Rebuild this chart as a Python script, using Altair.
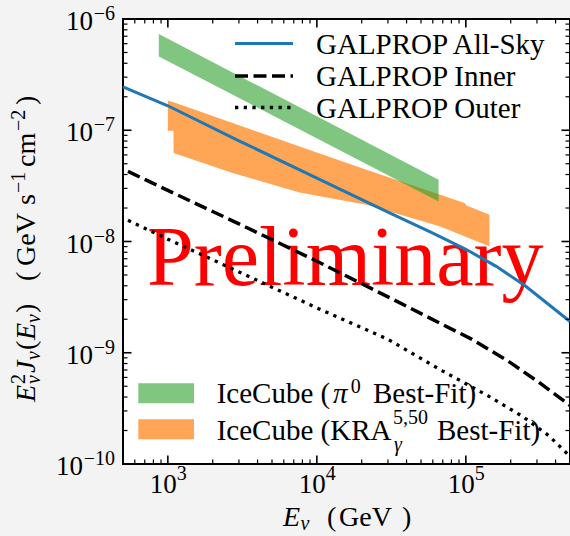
import altair as alt
import pandas as pd

# ---------------- data ----------------
allsky_E = [500, 1000, 3000, 10000, 30000, 60000, 100000, 160000, 250000, 500000]
allsky_flux = [2.45e-7, 1.66e-7, 8.04e-8, 3.72e-8, 1.84e-8, 1.19e-8, 8.51e-9, 5.98e-9, 4.0e-9, 1.91e-9]

inner_E = [540, 1000, 3000, 10000, 30000, 70000, 110000, 190000, 310000, 500000]
inner_flux = [4.27e-8, 2.88e-8, 1.44e-8, 6.65e-9, 3.18e-9, 1.79e-9, 1.32e-9, 8.51e-10, 5.41e-10, 3.36e-10]

outer_E = [540, 1000, 3000, 10000, 30000, 70000, 140000, 240000, 360000, 500000]
outer_flux = [1.55e-8, 1.05e-8, 5.33e-9, 2.53e-9, 1.32e-9, 6.84e-10, 4.12e-10, 2.68e-10, 1.80e-10, 1.17e-10]

pi0_E = [870, 65600]
pi0_upper = [7.33e-7, 3.59e-8]
pi0_lower = [4.61e-7, 2.29e-8]

kra_E = [1000, 1090, 1093, 2720, 7660, 21500, 66700, 98800, 100300, 144000]
kra_upper = [1.854e-7, 1.782e-7, 1.782e-7, 1.161e-7, 7.16e-8, 4.42e-8, 2.64e-8, 2.21e-8, 2.12e-8, 1.74e-8]
kra_lower = [9.91e-8, 9.91e-8, 6.25e-8, 4.13e-8, 2.75e-8, 2.14e-8, 1.37e-8, 1.11e-8, 1.10e-8, 9.08e-9]

x_major = [1e3, 1e4, 1e5]
x_minor = [600, 700, 800, 900,
           2000, 3000, 4000, 5000, 6000, 7000, 8000, 9000,
           20000, 30000, 40000, 50000, 60000, 70000, 80000, 90000,
           200000, 300000, 400000]
x_label_exp = ["3", "4", "5"]

y_major = [1e-10, 1e-9, 1e-8, 1e-7, 1e-6]
y_minor = [2e-10, 3e-10, 4e-10, 5e-10, 6e-10, 7e-10, 8e-10, 9e-10,
           2e-9, 3e-9, 4e-9, 5e-9, 6e-9, 7e-9, 8e-9, 9e-9,
           2e-8, 3e-8, 4e-8, 5e-8, 6e-8, 7e-8, 8e-8, 9e-8,
           2e-7, 3e-7, 4e-7, 5e-7, 6e-7, 7e-7, 8e-7, 9e-7]
y_label_exp = ["\u221210", "\u22129", "\u22128", "\u22127", "\u22126"]

# ---------------- layout ----------------
W, H = 447, 445
SERIF = "Liberation Serif"
BLUE = "#1f77b4"

xs = alt.Scale(type="log", domain=[500, 500000], nice=False)
ys = alt.Scale(type="log", domain=[1e-10, 1e-6], nice=False)

one = pd.DataFrame({"a": [0]})


def X(f):
    return alt.X(f, type="quantitative", scale=xs, axis=None)


def Y(f):
    return alt.Y(f, type="quantitative", scale=ys, axis=None)


def txt(s, x, y, size=29, style="normal", angle=0, align="left", color="black"):
    return alt.Chart(one).mark_text(
        text=s, font=SERIF, fontSize=size, fontStyle=style, angle=angle,
        align=align, baseline="alphabetic", color=color
    ).encode(x=alt.value(x), y=alt.value(y))


df_allsky = pd.DataFrame({"E": allsky_E, "F": allsky_flux})
df_inner = pd.DataFrame({"E": inner_E, "F": inner_flux})
df_outer = pd.DataFrame({"E": outer_E, "F": outer_flux})
df_pi0 = pd.DataFrame({"E": pi0_E, "up": pi0_upper, "lo": pi0_lower})
df_kra = pd.DataFrame({"E": kra_E, "up": kra_upper, "lo": kra_lower})

kra = alt.Chart(df_kra).mark_area(color="#ff7f0e", opacity=0.7).encode(
    x=X("E"), y=Y("up"), y2="lo")
pi0 = alt.Chart(df_pi0).mark_area(color="#2ca02c", opacity=0.6).encode(
    x=X("E"), y=Y("up"), y2="lo")

prelim = txt("Preliminary", 24, 266, size=84, color="red")

l_all = alt.Chart(df_allsky).mark_line(color=BLUE, strokeWidth=3).encode(x=X("E"), y=Y("F"))
l_in = alt.Chart(df_inner).mark_line(color="black", strokeWidth=3.5, strokeDash=[13, 5.5]).encode(
    x=X("E"), y=Y("F"))
l_out = alt.Chart(df_outer).mark_line(color="black", strokeWidth=3.3, strokeDash=[3.3, 5.4],
                                      strokeCap="butt").encode(x=X("E"), y=Y("F"))

# ---------------- ticks (inward, all four sides) ----------------
dxmaj = pd.DataFrame({"v": x_major})
dxmin = pd.DataFrame({"v": x_minor})
dymaj = pd.DataFrame({"v": y_major})
dymin = pd.DataFrame({"v": y_minor})
MAJ, MIN = 8.5, 4.5
ticks = []
for d, L, sw in [(dxmaj, MAJ, 1.6), (dxmin, MIN, 1.2)]:
    ticks.append(alt.Chart(d).mark_rule(color="black", strokeWidth=sw).encode(
        x=X("v"), y=alt.value(H), y2=alt.value(H - L)))
    ticks.append(alt.Chart(d).mark_rule(color="black", strokeWidth=sw).encode(
        x=X("v"), y=alt.value(0), y2=alt.value(L)))
for d, L, sw in [(dymaj, MAJ, 1.6), (dymin, MIN, 1.2)]:
    ticks.append(alt.Chart(d).mark_rule(color="black", strokeWidth=sw).encode(
        y=Y("v"), x=alt.value(0), x2=alt.value(L)))
    ticks.append(alt.Chart(d).mark_rule(color="black", strokeWidth=sw).encode(
        y=Y("v"), x=alt.value(W), x2=alt.value(W - L)))

# ---------------- tick labels ----------------
dxl = pd.DataFrame({"v": x_major, "e": x_label_exp})
xl10 = alt.Chart(dxl).mark_text(text="10", font=SERIF, fontSize=27, align="center",
                                baseline="alphabetic", dx=-4.6).encode(x=X("v"), y=alt.value(474))
xlexp = alt.Chart(dxl).mark_text(font=SERIF, fontSize=20, align="center",
                                 baseline="alphabetic", dx=14).encode(
    x=X("v"), y=alt.value(461), text="e:N")

dyl = pd.DataFrame({"v": y_major, "e": y_label_exp})
dyl1 = dyl[dyl["e"].str.len() == 2]
dyl2 = dyl[dyl["e"].str.len() == 3]
ylexp = alt.Chart(dyl).mark_text(font=SERIF, fontSize=20, align="right",
                                 baseline="alphabetic", dy=1).encode(
    y=Y("v"), x=alt.value(-8), text="e:N")
yl10a = alt.Chart(dyl1).mark_text(text="10", font=SERIF, fontSize=27, align="right",
                                  baseline="alphabetic", dy=11).encode(y=Y("v"), x=alt.value(-30))
yl10b = alt.Chart(dyl2).mark_text(text="10", font=SERIF, fontSize=27, align="right",
                                  baseline="alphabetic", dy=11).encode(y=Y("v"), x=alt.value(-40))

# ---------------- axis titles ----------------
xt = [
    txt("E", 160, 507, 28, "italic"),
    txt("\u03bd", 177.5, 511, 20, "italic"),
    txt("(", 204, 507, 28),
    txt("GeV", 216, 507, 28),
    txt(")", 279, 507, 28),
]
MX, SUBX, SUPX = -88, -83, -98
ypieces = [
    ("E", 383, MX, 28, "italic"),
    ("2", 365, SUPX, 20, "normal"),
    ("\u03bd", 365, SUBX, 20, "italic"),
    ("J", 354, MX, 28, "italic"),
    ("\u03bd", 341, SUBX, 20, "italic"),
    ("(", 331, MX, 28, "normal"),
    ("E", 321, MX, 28, "italic"),
    ("\u03bd", 304, SUBX, 20, "italic"),
    (")", 294, MX, 28, "normal"),
    ("(", 262, MX, 28, "normal"),
    ("GeV", 247, MX, 28, "normal"),
    ("s", 186, MX, 28, "normal"),
    ("\u22121", 174, SUPX, 20, "normal"),
    ("cm", 148, MX, 28, "normal"),
    ("\u22122", 112, SUPX, 20, "normal"),
    (")", 86, MX, 28, "normal"),
]
yt = [txt(s, x, y, sz, st, angle=270) for s, y, x, sz, st in ypieces]

# ---------------- legends ----------------
leg = [
    alt.Chart(one).mark_rule(color=BLUE, strokeWidth=3).encode(
        x=alt.value(112), x2=alt.value(170), y=alt.value(24.5)),
    alt.Chart(one).mark_rule(color="black", strokeWidth=3.5, strokeDash=[13, 5.5]).encode(
        x=alt.value(112), x2=alt.value(170), y=alt.value(57)),
    alt.Chart(one).mark_rule(color="black", strokeWidth=3.3, strokeDash=[3.3, 5.4],
                             strokeCap="butt").encode(
        x=alt.value(112), x2=alt.value(170), y=alt.value(88.5)),
    txt("GALPROP All-Sky", 193, 34.5),
    txt("GALPROP Inner", 193, 66.5),
    txt("GALPROP Outer", 193, 98.5),
    alt.Chart(one).mark_rect(color="#2ca02c", opacity=0.6).encode(
        x=alt.value(15.3), x2=alt.value(71), y=alt.value(364.3), y2=alt.value(384.3)),
    alt.Chart(one).mark_rect(color="#ff7f0e", opacity=0.7).encode(
        x=alt.value(15.3), x2=alt.value(71), y=alt.value(400.3), y2=alt.value(420.3)),
    txt("IceCube (", 93.7, 384.3),
    txt("\u03c0", 210, 384.3, 29, "italic"),
    txt("0", 227.7, 373.5, 20),
    txt("Best-Fit)", 250, 384.3),
    txt("IceCube (KRA", 93.7, 421),
    txt("5,50", 270, 405, 20),
    txt("\u03b3", 271, 432, 20, "italic"),
    txt("Best-Fit)", 314, 421),
]

chart = alt.layer(
    kra, pi0, prelim, l_all, l_in, l_out,
    *ticks, xl10, xlexp, ylexp, yl10a, yl10b, *xt, *yt, *leg
).properties(
    width=W, height=H,
    autosize=alt.AutoSizeParams(type="none"),
    padding={"left": 123, "top": 19, "right": 0, "bottom": 72},
    background="#f3f3f3",
).configure_view(stroke="black", strokeWidth=2, fill="white")

chart.save("out.html", embed_options={"renderer": "svg", "actions": False})
